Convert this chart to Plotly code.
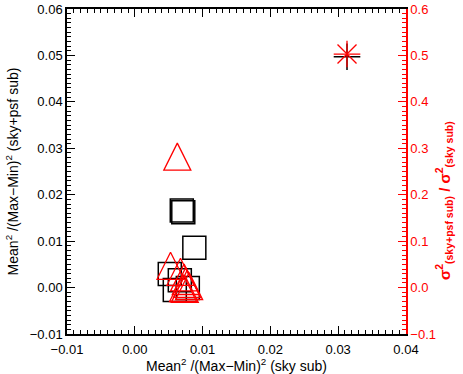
import plotly.graph_objects as go

# Black squares (left axis)
sq_x = [0.00693, 0.00715, 0.00878, 0.00516, 0.00590, 0.00664, 0.00782]
sq_y = [0.0166, 0.0162, 0.0086, 0.0029, -0.0005, 0.0016, -0.0001]
# Black plus (left axis)
plus_x = [0.0313]
plus_y = [0.0497]
# Red triangles (right axis)
tri_x = [0.00627, 0.00527, 0.00674, 0.00727, 0.00752, 0.00771, 0.00712, 0.00801, 0.00737]
tri_y = [0.282, 0.0469, 0.0340, 0.0218, 0.0142, 0.0078, -0.0009, 0.0034, -0.0030]
# Red asterisk (right axis)
star_x = [0.0313]
star_y = [0.503]

FONT = "Liberation Sans, Arial, Helvetica, sans-serif"
RED = "#ff0000"

fig = go.Figure()
fig.add_trace(go.Scatter(x=sq_x, y=sq_y, mode="markers",
                         marker=dict(symbol="square-open", size=23, color="black",
                                     line=dict(width=1.5, color="black"))))
fig.add_trace(go.Scatter(x=plus_x, y=plus_y, mode="markers",
                         marker=dict(symbol="cross-thin-open", size=19, color="black",
                                     line=dict(width=1.5, color="black"))))
# up-pointing triangle centred on the point (arrow shape rotated, shifted by half its height)
fig.add_trace(go.Scatter(x=tri_x, y=tri_y, mode="markers", yaxis="y2",
                         marker=dict(symbol="arrow-down-open", angle=180, size=27, standoff=13.5,
                                     color=RED, line=dict(width=1.3, color=RED))))
fig.add_trace(go.Scatter(x=star_x, y=star_y, mode="markers", yaxis="y2",
                         marker=dict(symbol="cross-thin-open", size=19, color=RED,
                                     line=dict(width=1.3, color=RED))))
fig.add_trace(go.Scatter(x=star_x, y=star_y, mode="markers", yaxis="y2",
                         marker=dict(symbol="x-thin-open", size=19, color=RED,
                                     line=dict(width=1.3, color=RED))))

right_title = ("<b>σ<sup>2</sup><sub>(sky+psf sub)</sub> / σ<sup>2</sup><sub>(sky sub)</sub></b>"
               + "&nbsp;" * 14)

fig.update_layout(
    width=463, height=374,
    margin=dict(l=67, r=57, t=9, b=40),
    plot_bgcolor="white", paper_bgcolor="white",
    showlegend=False,
    font=dict(family=FONT, size=13, color="black"),
    xaxis=dict(range=[-0.01, 0.04], dtick=0.01, tick0=0, tickformat=".2f",
               automargin=False, ticklabelstandoff=3,
               showgrid=False, zeroline=False,
               showline=True, linecolor="black", linewidth=1.5, mirror="ticks",
               ticks="inside", ticklen=8, tickwidth=1.2, tickcolor="black",
               minor=dict(ticks="inside", ticklen=4, dtick=0.001, tickcolor="black", tickwidth=1.2),
               title=dict(text="Mean<sup>2</sup> /(Max−Min)<sup>2</sup> (sky sub)",
                          font=dict(size=14), standoff=2)),
    yaxis=dict(range=[-0.01, 0.06], dtick=0.01, tick0=0, tickformat=".2f",
               automargin=False,
               showgrid=False, zeroline=False,
               showline=True, linecolor="black", linewidth=1.5,
               ticks="inside", ticklen=8, tickwidth=1.2, tickcolor="black",
               minor=dict(ticks="inside", ticklen=4, dtick=0.001, tickcolor="black", tickwidth=1.2),
               title=dict(text="Mean<sup>2</sup> /(Max−Min)<sup>2</sup> (sky+psf sub)",
                          font=dict(size=14), standoff=8)),
    yaxis2=dict(range=[-0.1, 0.6], dtick=0.1, tick0=0, tickformat=".1f",
                overlaying="y", side="right", automargin=False,
                showgrid=False, zeroline=False,
                showline=True, linecolor=RED, linewidth=1.5,
                ticks="inside", ticklen=8, tickwidth=1.2, tickcolor=RED,
                tickfont=dict(color=RED),
                minor=dict(ticks="inside", ticklen=4, dtick=0.01, tickcolor=RED, tickwidth=1.2),
                title=dict(text=right_title,
                           font=dict(size=15, color=RED), standoff=4)),
)

fig.write_html("out.html", config={"displayModeBar": False},
               post_script="document.body.style.margin='0';")
